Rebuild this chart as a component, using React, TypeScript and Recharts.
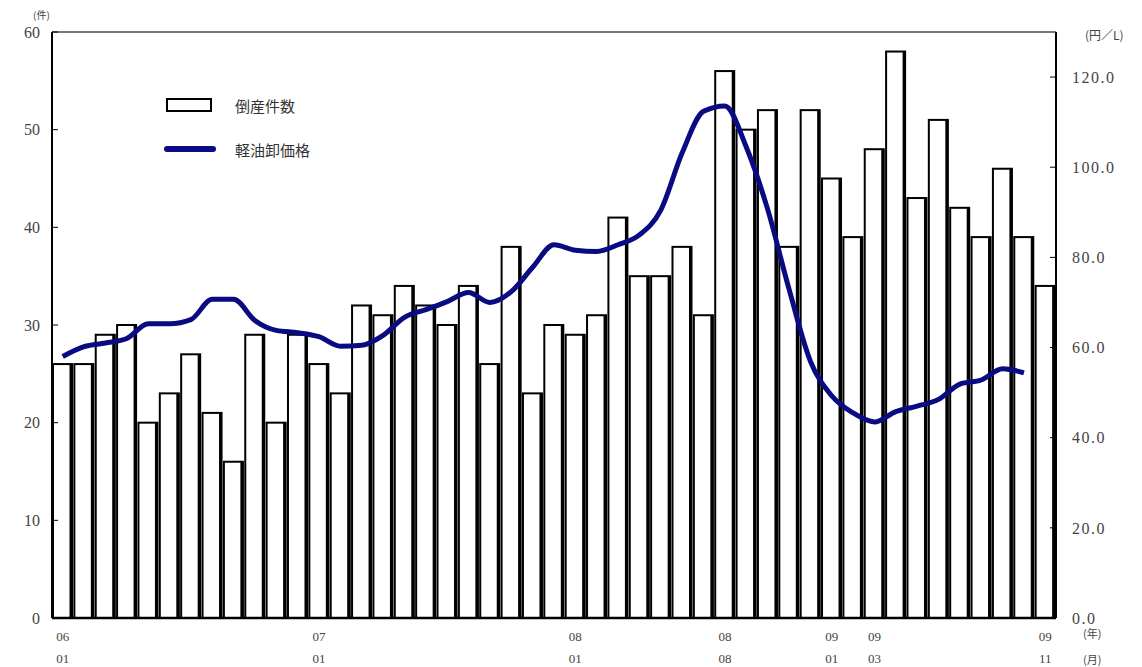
import { ComposedChart, Bar, Line, XAxis, YAxis, ReferenceLine } from 'recharts';

const months = [
  '06/01', '06/02', '06/03', '06/04', '06/05', '06/06', '06/07', '06/08', '06/09', '06/10', '06/11', '06/12',
  '07/01', '07/02', '07/03', '07/04', '07/05', '07/06', '07/07', '07/08', '07/09', '07/10', '07/11', '07/12',
  '08/01', '08/02', '08/03', '08/04', '08/05', '08/06', '08/07', '08/08', '08/09', '08/10', '08/11', '08/12',
  '09/01', '09/02', '09/03', '09/04', '09/05', '09/06', '09/07', '09/08', '09/09', '09/10', '09/11',
];

// 倒産件数 (件)
const bankruptcies = [
  26, 26, 29, 30, 20, 23, 27, 21, 16, 29, 20, 29,
  26, 23, 32, 31, 34, 32, 30, 34, 26, 38, 23, 30,
  29, 31, 41, 35, 35, 38, 31, 56, 50, 52, 38, 52,
  45, 39, 48, 58, 43, 51, 42, 39, 46, 39, 34,
];

// 軽油卸価格 (円/L), no value yet for 09/11
const dieselPrice = [
  58.0, 60.2, 61.0, 62.0, 65.3, 65.3, 66.2, 70.7, 70.7, 66.0, 63.8, 63.3,
  62.4, 60.3, 60.5, 62.7, 66.7, 68.4, 70.2, 72.2, 70.0, 72.4, 77.8, 82.8,
  81.6, 81.3, 82.8, 85.0, 90.5, 103.2, 112.4, 113.6, 104.5, 90.7, 73.0, 57.0,
  49.3, 45.5, 43.5, 45.8, 47.0, 48.5, 51.9, 52.8, 55.3, 54.4, null,
];

const shownTicks = ['06/01', '07/01', '08/01', '08/08', '09/01', '09/03', '09/11'];
const leftTicks = [0, 10, 20, 30, 40, 50, 60];
const rightTicks = [0, 20, 40, 60, 80, 100, 120];

const data = months.map((m, i) => ({ month: m, count: bankruptcies[i], price: dieselPrice[i] }));

const serif = '"Liberation Serif", "DejaVu Serif", serif';
const jp = '"Noto Sans CJK JP", sans-serif';
const navy = '#0a0a82';

const BoxBar = (props: any) => {
  const { x, y, width, height } = props;
  if (!height || height <= 0) return null;
  return (
    <g>
      <rect x={x} y={y} width={width} height={height} fill="#fff" stroke="#000" strokeWidth={2} />
      <rect x={x + width - 2.5} y={y} width={3} height={height} fill="#000" />
    </g>
  );
};

const MonthTick = (props: any) => {
  const { x, y, payload } = props;
  const label: string = payload.value;
  if (!shownTicks.includes(label)) return null;
  const [yy, mm] = label.split('/');
  return (
    <g transform={`translate(${x},${y})`}>
      <text x={0} y={15} textAnchor="middle" fontFamily={serif} fontSize={13} fill="#444">{yy}</text>
      <text x={0} y={37} textAnchor="middle" fontFamily={serif} fontSize={13} fill="#444">{mm}</text>
    </g>
  );
};

export default function App() {
  return (
    <div style={{ position: 'absolute', left: 0, top: 0, width: 1142, height: 667, background: '#fff' }}>
      <ComposedChart
        width={1142}
        height={667}
        data={data}
        margin={{ top: 32, right: 0, bottom: 9, left: 0 }}
        barCategoryGap={1}
      >
        <XAxis
          dataKey="month"
          interval={0}
          tick={<MonthTick />}
          tickLine={false}
          axisLine={{ stroke: '#000', strokeWidth: 2.5 }}
          height={40}
        />
        <YAxis
          yAxisId="left"
          orientation="left"
          domain={[0, 60]}
          ticks={leftTicks}
          width={52}
          tickSize={-6}
          tickMargin={18}
          tickLine={{ stroke: '#000' }}
          axisLine={{ stroke: '#000', strokeWidth: 2 }}
          tick={{ fontFamily: serif, fontSize: 16, fill: '#444' }}
        />
        <YAxis
          yAxisId="right"
          orientation="right"
          domain={[0, 130]}
          ticks={rightTicks}
          width={86}
          tickSize={-6}
          tickMargin={22}
          tickLine={{ stroke: '#000' }}
          axisLine={{ stroke: '#000', strokeWidth: 2 }}
          tickFormatter={(v: number) => v.toFixed(1)}
          tick={{ fontFamily: serif, fontSize: 16, fill: '#444', letterSpacing: 1.5 }}
        />
        <ReferenceLine yAxisId="left" y={60} stroke="#777" strokeWidth={2} />
        <Bar yAxisId="left" dataKey="count" name="倒産件数" shape={<BoxBar />} isAnimationActive={false} />
        <Line
          yAxisId="right"
          dataKey="price"
          name="軽油卸価格"
          type="monotone"
          stroke={navy}
          strokeWidth={5}
          dot={false}
          connectNulls={false}
          isAnimationActive={false}
        />
      </ComposedChart>
      <div style={{ position: 'absolute', left: 164, top: 92, fontFamily: jp, fontSize: 15, color: '#333' }}>
        <div style={{ display: 'flex', alignItems: 'center', height: 26 }}>
          <div style={{ width: 42, height: 10, border: '2.5px solid #000', background: '#fff', marginLeft: 2 }} />
          <span style={{ marginLeft: 23 }}>倒産件数</span>
        </div>
        <div style={{ display: 'flex', alignItems: 'center', height: 26, marginTop: 18 }}>
          <div style={{ width: 52, height: 6, borderRadius: 3, background: navy }} />
          <span style={{ marginLeft: 19 }}>軽油卸価格</span>
        </div>
      </div>
      <div style={{ position: 'absolute', left: 33, top: 7, fontFamily: jp, fontSize: 10, color: '#444' }}>(件)</div>
      <div style={{ position: 'absolute', left: 1085, top: 26, fontFamily: jp, fontSize: 12, color: '#444' }}>(円／L)</div>
      <div style={{ position: 'absolute', left: 1083, top: 625, fontFamily: jp, fontSize: 11, color: '#444' }}>(年)</div>
      <div style={{ position: 'absolute', left: 1083, top: 651, fontFamily: jp, fontSize: 11, color: '#444' }}>(月)</div>
    </div>
  );
}
